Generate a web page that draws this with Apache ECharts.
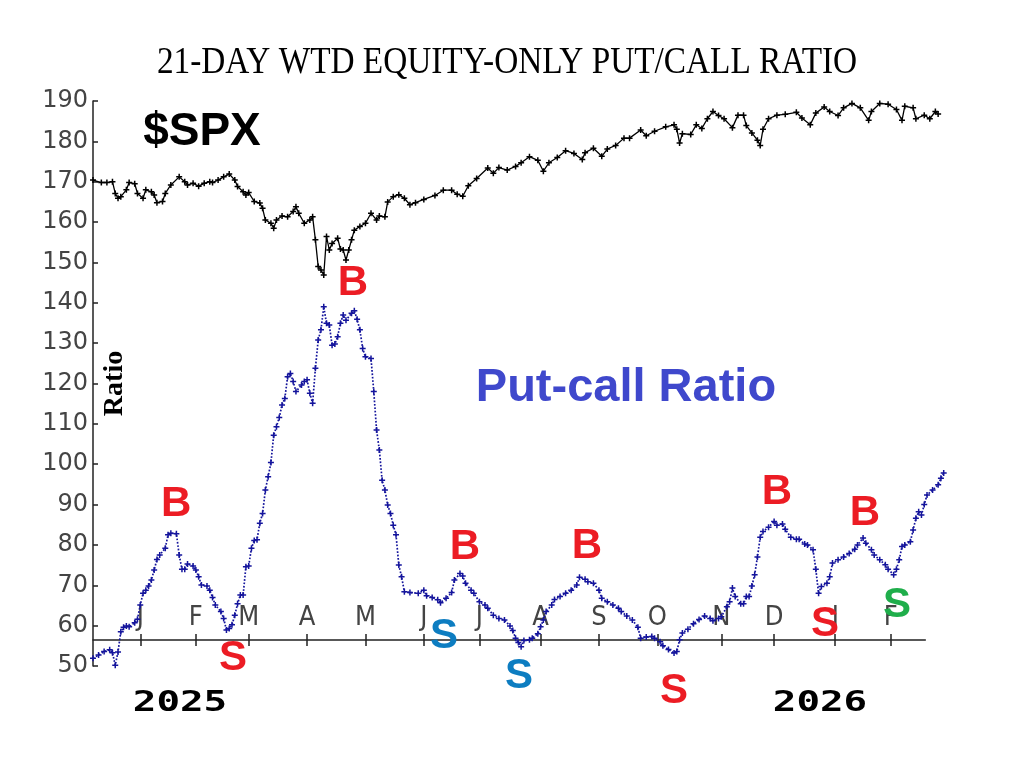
<!DOCTYPE html>
<html><head><meta charset="utf-8">
<script src="https://cdn.jsdelivr.net/npm/echarts@6/dist/echarts.min.js"></script>
<style>html,body{margin:0;padding:0;background:#fff}#c{width:1017px;height:768px}</style>
</head><body><div id="c"></div>
<script>
const titleText = '21-DAY WTD EQUITY-ONLY PUT/CALL RATIO';
const axisName = 'Ratio';
const monthTickDays = [17,37,56,77,98,119,139,161,182,203,226,245,267,287];
const monthLabels = ['J','F','M','A','M','J','J','A','S','O','N','D','J','F'];
const yearLabels = ['2025','2026'];

// [trading-day index, scaled $SPX value]
const spxSeries = [[0,170.4],[3,169.8],[5,169.8],[7,170.0],[8,167.1],[9,165.9],[10,166.3],[12,168.0],[13,169.8],[15,169.5],[16,167.1],[18,165.9],[19,168.0],[21,167.5],[22,166.7],[23,164.8],[25,165.1],[26,167.1],[28,169.2],[31,171.2],[33,170.0],[34,169.2],[36,169.6],[38,168.9],[40,169.6],[42,170.0],[43,169.8],[45,170.4],[47,171.2],[49,171.9],[51,170.4],[52,168.8],[54,167.5],[55,166.7],[56,167.3],[58,165.1],[60,164.7],[61,163.4],[62,160.5],[64,159.7],[65,158.5],[66,160.5],[68,161.5],[70,161.3],[72,162.6],[73,163.8],[74,162.2],[76,159.7],[78,160.5],[79,161.3],[80,155.6],[81,149.0],[82,148.1],[83,146.9],[84,156.4],[85,153.1],[86,154.7],[88,156.0],[89,153.3],[90,153.1],[91,150.6],[92,153.1],[93,155.6],[94,158.0],[96,158.9],[98,159.7],[100,162.2],[102,160.5],[103,161.5],[105,161.3],[106,165.0],[108,166.3],[110,166.8],[112,165.9],[114,164.3],[116,164.8],[119,165.6],[123,166.6],[126,167.9],[129,167.9],[131,166.9],[133,166.4],[135,169.0],[138,170.8],[142,173.4],[144,172.1],[146,173.5],[149,172.9],[152,173.8],[154,174.7],[157,176.2],[160,175.3],[162,172.6],[164,174.7],[167,176.0],[170,177.7],[173,177.0],[176,175.5],[177,177.2],[180,178.3],[183,176.3],[185,178.1],[188,179.0],[191,180.8],[193,180.8],[197,182.8],[199,181.4],[202,182.5],[206,183.6],[209,184.1],[210,183.0],[211,179.6],[212,181.9],[215,181.7],[217,184.1],[219,183.2],[221,185.6],[223,187.4],[225,186.4],[227,185.6],[230,183.4],[232,186.5],[234,186.5],[235,183.9],[237,182.1],[239,180.3],[240,179.0],[241,183.0],[243,185.6],[246,186.5],[249,186.7],[253,187.2],[255,185.8],[258,184.1],[260,187.0],[263,188.5],[265,187.4],[268,186.4],[270,188.3],[273,189.4],[276,188.3],[279,185.2],[280,187.4],[283,189.4],[286,189.2],[289,187.9],[291,185.2],[292,188.7],[295,188.3],[296,185.6],[299,186.5],[301,185.6],[303,187.4],[304,186.8]];

// [trading-day index, put/call ratio x100]
const putCallSeries = [[0,51.9],[2,52.7],[4,53.6],[6,54.0],[7,53.3],[8,50.2],[9,53.5],[10,58.5],[11,59.6],[12,59.9],[13,59.7],[15,60.7],[16,61.6],[17,65.1],[18,68.0],[19,68.8],[20,69.8],[21,71.3],[22,73.8],[23,76.4],[24,77.5],[26,79.2],[27,82.5],[28,82.9],[30,82.8],[31,77.5],[32,74.0],[33,74.0],[34,75.3],[36,74.8],[37,73.8],[38,72.1],[39,70.1],[41,69.8],[42,68.8],[43,67.0],[44,65.1],[46,63.5],[47,61.8],[48,58.9],[49,59.3],[50,60.2],[51,62.6],[52,65.4],[53,67.6],[54,67.6],[55,74.6],[56,74.8],[57,79.2],[58,81.1],[59,81.3],[60,85.4],[61,87.8],[62,93.6],[63,96.9],[64,100.4],[65,107.2],[66,109.3],[67,111.6],[68,114.7],[69,116.3],[70,121.7],[71,122.5],[72,120.5],[73,118.0],[75,119.6],[76,120.5],[77,120.9],[78,117.6],[79,115.1],[80,123.8],[81,130.8],[82,133.3],[83,139.0],[84,134.9],[85,134.5],[86,129.5],[87,129.8],[88,131.6],[89,134.9],[90,137.0],[91,135.7],[93,137.4],[94,138.0],[95,135.9],[96,133.3],[97,128.7],[98,126.6],[100,126.2],[101,118.0],[102,108.5],[103,103.5],[104,96.0],[105,93.6],[106,89.9],[107,87.8],[108,84.9],[109,82.5],[110,75.0],[111,72.1],[112,68.4],[114,68.2],[117,68.0],[119,68.8],[120,67.4],[122,67.0],[124,66.4],[125,65.7],[127,66.8],[129,68.2],[130,71.3],[132,72.9],[133,72.3],[134,70.5],[136,68.8],[137,68.0],[139,65.9],[141,65.1],[142,64.3],[144,62.6],[146,61.8],[148,61.4],[150,59.9],[151,58.8],[152,56.9],[153,55.8],[154,54.8],[155,56.3],[157,56.5],[158,56.9],[160,58.0],[161,59.7],[162,61.4],[163,63.5],[165,65.1],[166,66.5],[168,67.2],[170,68.0],[172,68.8],[174,70.1],[175,72.0],[177,71.5],[178,70.9],[180,70.5],[182,68.8],[183,66.8],[185,65.9],[187,65.1],[189,64.3],[190,63.5],[192,62.4],[194,61.4],[196,59.6],[197,56.9],[199,57.2],[201,57.3],[202,56.9],[204,56.0],[205,55.0],[207,54.1],[209,53.2],[210,53.6],[211,56.5],[212,58.2],[214,59.1],[216,60.5],[218,61.5],[220,62.4],[222,61.8],[223,61.2],[225,61.8],[226,62.2],[228,64.7],[229,65.9],[230,69.3],[231,67.2],[233,65.4],[234,65.4],[235,67.2],[236,67.2],[237,69.8],[238,72.6],[239,77.0],[240,81.9],[241,83.3],[243,84.4],[245,85.8],[246,84.9],[248,85.2],[249,83.9],[251,81.9],[253,81.4],[254,81.4],[256,80.2],[257,80.0],[259,78.8],[260,74.0],[261,68.0],[262,69.7],[264,70.5],[265,72.1],[266,75.5],[268,76.3],[270,77.0],[272,77.9],[274,78.9],[275,80.0],[277,81.7],[278,80.4],[280,78.8],[281,77.5],[283,76.3],[285,75.1],[286,74.0],[288,72.6],[289,74.0],[290,76.3],[291,79.6],[292,80.0],[294,80.8],[295,83.7],[296,86.6],[297,88.2],[298,87.4],[299,90.0],[300,92.4],[302,93.6],[304,94.9],[305,96.5],[306,97.8]];

// buy / sell signal letters: [day, level, text, colour]
const signals = [
  [29.9, 90.1, 'B', '#ec1c24'],
  [50.4, 52.0, 'S', '#ec1c24'],
  [93.5, 144.9, 'B', '#ec1c24'],
  [126.3, 57.4, 'S', '#0d7dc1'],
  [133.8, 79.5, 'B', '#ec1c24'],
  [153.2, 47.5, 'S', '#0d7dc1'],
  [177.7, 79.7, 'B', '#ec1c24'],
  [209.0, 43.6, 'S', '#ec1c24'],
  [246.0, 92.9, 'B', '#ec1c24'],
  [263.3, 60.4, 'S', '#ec1c24'],
  [277.7, 87.7, 'B', '#ec1c24'],
  [289.2, 64.9, 'S', '#1fae4b']
];
// series captions: [day, level, text, colour]
const captions = [
  [39.2, 182.3, '$SPX', '#000000'],
  [191.7, 118.9, 'Put-call Ratio', '#3f48cc']
];

const plusPath = 'path://M-1,-4H1V-1H4V1H1V4H-1V1H-4V-1H-1Z';
const chart = echarts.init(document.getElementById('c'), null, {renderer: 'canvas'});

const signalData = signals.map(s => ({
  value: [s[0], s[1]],
  label: {show: true, position: 'inside', formatter: s[2], color: s[3], opacity: 1,
    fontFamily: 'Liberation Sans, Arial, sans-serif', fontWeight: 'bold', fontSize: 42}
}));
const captionData = captions.map(c => ({
  value: [c[0], c[1]],
  label: {show: true, position: 'inside', formatter: c[2], color: c[3], opacity: 1,
    fontFamily: 'Liberation Sans, Arial, sans-serif', fontWeight: 'bold', fontSize: c[2] === '$SPX' ? 46 : 47}
}));

const axisFont = 'DejaVu Sans, sans-serif';
const tickStyle = {color: '#222', width: 1.5};
chart.setOption({
  animation: false,
  backgroundColor: '#ffffff',
  graphic: [
    {type: 'text', x: 507, y: 63, scaleX: 0.9, z: 10,
      style: {text: titleText, fill: '#000', font: '37px "Liberation Serif", "Times New Roman", serif',
        align: 'center', verticalAlign: 'middle'}},
    {type: 'text', x: 180, y: 704, scaleX: 1.4, z: 10,
      style: {text: yearLabels[0], fill: '#000', font: 'bold 28px "DejaVu Sans Mono", monospace',
        align: 'center', verticalAlign: 'middle'}},
    {type: 'text', x: 820, y: 704, scaleX: 1.4, z: 10,
      style: {text: yearLabels[1], fill: '#000', font: 'bold 28px "DejaVu Sans Mono", monospace',
        align: 'center', verticalAlign: 'middle'}}
  ],
  grid: [
    {left: 93, right: 73.3, top: 101, bottom: 102},
    {left: 93, right: 91.7, top: 560, bottom: 128}
  ],
  xAxis: [
    {gridIndex: 0, type: 'value', min: 0, max: 306, show: false},
    {gridIndex: 1, type: 'value', position: 'bottom', min: 0, max: 299.4,
      axisLine: {show: true, lineStyle: {color: '#222', width: 1.5}},
      axisTick: {show: true, inside: true, length: 6, customValues: monthTickDays, lineStyle: tickStyle},
      axisLabel: {show: true, inside: true, margin: 9, customValues: monthTickDays,
        formatter: v => monthLabels[monthTickDays.indexOf(v)] || '',
        color: '#444', fontFamily: 'Liberation Sans Narrow, DejaVu Sans Condensed, sans-serif', fontSize: 27},
      splitLine: {show: false}},
    {gridIndex: 1, type: 'value', position: 'bottom', offset: 0, min: 0, max: 299.4,
      axisLine: {show: false},
      axisTick: {show: true, inside: false, length: 6, customValues: monthTickDays, lineStyle: tickStyle},
      axisLabel: {show: false}, splitLine: {show: false}}
  ],
  yAxis: [
    {gridIndex: 0, type: 'value', min: 50, max: 190, interval: 10,
      axisLine: {show: true, lineStyle: {color: '#222', width: 1.5}},
      axisTick: {show: true, inside: true, length: 5, lineStyle: tickStyle},
      axisLabel: {color: '#444', fontFamily: axisFont, fontSize: 24, margin: 5},
      splitLine: {show: false},
      name: axisName, nameLocation: 'middle', nameRotate: 90, nameGap: -36, nameMoveOverlap: false,
      nameTextStyle: {color: '#000', fontFamily: 'Liberation Serif, serif', fontWeight: 'bold', fontSize: 28}},
    {gridIndex: 1, type: 'value', min: 0, max: 1, show: false}
  ],
  series: [
    {name: '$SPX', type: 'line', xAxisIndex: 0, yAxisIndex: 0, data: spxSeries,
      symbol: plusPath, symbolSize: 6, showSymbol: true,
      lineStyle: {color: '#000', width: 1.3}, itemStyle: {color: '#000'}, z: 3},
    {name: 'Put-call Ratio', type: 'line', xAxisIndex: 0, yAxisIndex: 0, data: putCallSeries,
      symbol: plusPath, symbolSize: 6, showSymbol: true,
      lineStyle: {color: '#14149c', width: 1.7, type: 'dotted'}, itemStyle: {color: '#14149c'}, z: 3},
    {name: 'signals', type: 'scatter', xAxisIndex: 0, yAxisIndex: 0, data: signalData,
      symbolSize: 1, itemStyle: {color: 'rgba(0,0,0,0)', opacity: 1}, clip: false, z: 5, silent: true},
    {name: 'captions', type: 'scatter', xAxisIndex: 0, yAxisIndex: 0, data: captionData,
      symbolSize: 1, itemStyle: {color: 'rgba(0,0,0,0)', opacity: 1}, clip: false, z: 5, silent: true}
  ]
});
</script></body></html>
